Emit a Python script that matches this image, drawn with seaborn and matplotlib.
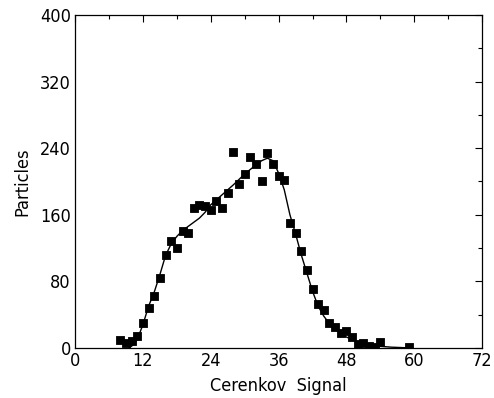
import matplotlib
matplotlib.use("Agg")
import matplotlib.pyplot as plt
import seaborn as sns
import pandas as pd
from matplotlib.ticker import MultipleLocator
from matplotlib import font_manager

# measured data points
signal = [8, 9, 10, 11, 12, 13, 14, 15, 16, 17, 18, 19, 20, 21, 22, 23, 24, 25, 26, 27,
          28, 29, 30, 31, 32, 33, 34, 35, 36, 37, 38, 39, 40, 41, 42, 43, 44, 45, 46, 47,
          48, 49, 50, 51, 52, 53, 54, 59]
particles = [9, 6, 8, 14, 30, 48, 62, 84, 112, 128, 120, 141, 138, 168, 172, 171, 166, 176, 168, 186,
             235, 197, 209, 230, 221, 200, 234, 221, 206, 202, 150, 138, 116, 94, 71, 53, 45, 30, 25, 18,
             20, 13, 5, 6, 2.5, 1.6, 7, 1.6]

# fitted curve
curve_x = [9.5, 10, 11, 12, 13, 14, 15, 16, 17, 18, 19, 20, 21, 22, 23, 24, 26, 28, 30, 32,
           33, 34, 35, 36, 37, 38, 39, 40, 41, 42, 43, 44, 45, 46, 47, 48, 50, 52, 54, 56, 59]
curve_y = [0, 2, 10, 28, 50, 67, 88, 111, 125, 134, 141, 146, 151, 156, 163, 172, 184, 196, 209, 220,
           225, 228, 225, 210, 190, 160, 137, 112, 90, 68, 50, 38, 29, 22, 17, 13, 7, 3.5, 1.8, 0.8, 0]

x_ticks = [0, 12, 24, 36, 48, 60, 72]
y_ticks = [0, 80, 160, 240, 320, 400]

sns.set_theme(style="white")
fonts = font_manager.fontManager.ttflist
names = {f.name for f in fonts}
stretch = "normal"
weight = "normal"
if "Liberation Sans Narrow" in names:
    fam = ["Liberation Sans Narrow", "DejaVu Sans"]
elif any(f.name == "DejaVu Sans" and f.stretch == "condensed" for f in fonts):
    fam = ["DejaVu Sans"]
    stretch = "condensed"
elif "Roboto Condensed" in names:
    fam = ["Roboto Condensed", "DejaVu Sans"]
    weight = "light"
else:
    fam = ["Roboto", "DejaVu Sans"]
    weight = "light"
plt.rcParams["font.family"] = fam
plt.rcParams["font.stretch"] = stretch
plt.rcParams["font.weight"] = weight
for k in ["text.color", "axes.labelcolor", "xtick.color", "ytick.color"]:
    plt.rcParams[k] = "black"

fig = plt.figure(figsize=(4.94, 3.98), dpi=100)
ax = fig.add_axes([0.152, 0.126, 0.824, 0.836])

pts = pd.DataFrame({"signal": signal, "particles": particles})
fit = pd.DataFrame({"x": curve_x, "y": curve_y})

sns.lineplot(data=fit, x="x", y="y", ax=ax, color="black", linewidth=1.0, sort=True)
sns.scatterplot(data=pts, x="signal", y="particles", ax=ax, color="black", marker="s",
                s=28, edgecolor="black", linewidth=0.6, zorder=3)

ax.set_xlim(0, 72)
ax.set_ylim(0, 400)
ax.set_xticks(x_ticks)
ax.set_yticks(y_ticks)
ax.xaxis.set_minor_locator(MultipleLocator(6))
ax.yaxis.set_minor_locator(MultipleLocator(40))
ax.tick_params(which="both", direction="in", top=True, right=True, color="black",
               labelcolor="black", labelsize=13, width=0.8)
ax.tick_params(which="major", length=5, pad=3)
ax.tick_params(which="minor", length=3)
for sp in ax.spines.values():
    sp.set_color("black")
    sp.set_linewidth(0.9)

ax.set_xlabel("Cerenkov  Signal", fontsize=13, labelpad=5, color="black")
ax.set_ylabel("Particles", fontsize=13, labelpad=6, color="black")

fig.savefig("out.png", dpi=100)
